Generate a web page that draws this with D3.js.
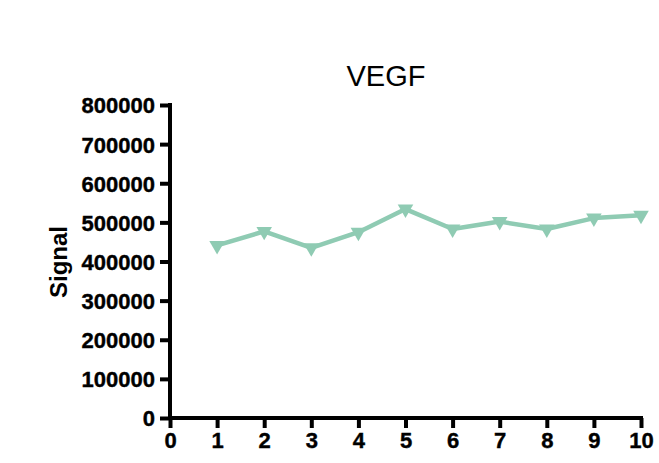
<!DOCTYPE html>
<html>
<head>
<meta charset="utf-8">
<script src="https://cdn.jsdelivr.net/npm/d3@7"></script>
<style>
  html, body { margin: 0; padding: 0; background: #fff; }
  svg { display: block; }
</style>
</head>
<body>
<script>
const title = "VEGF";
const yLabel = "Signal";
const xValues = [1, 2, 3, 4, 5, 6, 7, 8, 9, 10];
const signalValues = [441000, 477000, 435000, 475000, 534000, 483000, 502000, 483000, 511000, 518000];
const xTicks = [0, 1, 2, 3, 4, 5, 6, 7, 8, 9, 10];
const yTicks = [0, 100000, 200000, 300000, 400000, 500000, 600000, 700000, 800000];

(function () {
const W = 659, H = 463;
const mLeft = 170, mRight = 641, mTop = 105, mBottom = 418;
const color = "#8fcbb3";

const svg = d3.select("body").append("svg").attr("width", W).attr("height", H);

const x = d3.scaleLinear().domain([0, 10]).range([mLeft, mRight]);
const y = d3.scaleLinear().domain([0, 800000]).range([mBottom, mTop]);

const font = "Liberation Sans, Arial, Helvetica, sans-serif";

const yAxis = svg.append("g").attr("transform", `translate(${mLeft},0)`)
  .call(d3.axisLeft(y).tickValues(yTicks).tickFormat(d3.format("d")).tickSize(10).tickPadding(5));
const xAxis = svg.append("g").attr("transform", `translate(0,${mBottom})`)
  .call(d3.axisBottom(x).tickValues(xTicks).tickFormat(d3.format("d")).tickSize(10).tickPadding(4));

[yAxis, xAxis].forEach(g => {
  g.select(".domain").attr("stroke", "#000").attr("stroke-width", 4).attr("stroke-linecap", "square");
  g.selectAll(".tick line").attr("stroke", "#000").attr("stroke-width", 4);
  g.selectAll(".tick text").attr("fill", "#000").attr("font-family", font)
    .attr("font-weight", "bold").attr("font-size", 22)
    .attr("stroke", "#000").attr("stroke-width", 0.4);
});
yAxis.select(".domain").attr("d", `M0,${mTop}V${mBottom}`);
xAxis.select(".domain").attr("d", `M${mLeft},0H${mRight}`);
yAxis.selectAll(".tick text").attr("dy", "0.36em");
xAxis.selectAll(".tick text").attr("dy", "0.72em");

const line = d3.line().x((d, i) => x(xValues[i])).y(d => y(d));
svg.append("path").datum(signalValues)
  .attr("d", line).attr("fill", "none").attr("stroke", color)
  .attr("stroke-width", 4.5).attr("stroke-linejoin", "round");

const tri = d3.symbol().type(d3.symbolTriangle).size(105);
svg.append("g").selectAll("path").data(signalValues).join("path")
  .attr("d", tri)
  .attr("transform", (d, i) => `translate(${x(xValues[i])},${y(d)}) rotate(180)`)
  .attr("fill", color);

svg.append("text").attr("x", 386).attr("y", 86).attr("text-anchor", "middle")
  .attr("font-family", font).attr("font-size", 29).attr("fill", "#000").text(title);

svg.append("text").attr("transform", `translate(67,262) rotate(-90)`)
  .attr("text-anchor", "middle").attr("font-family", font).attr("font-weight", "bold")
  .attr("font-size", 24).attr("fill", "#000").text(yLabel);
})();
</script>
</body>
</html>
